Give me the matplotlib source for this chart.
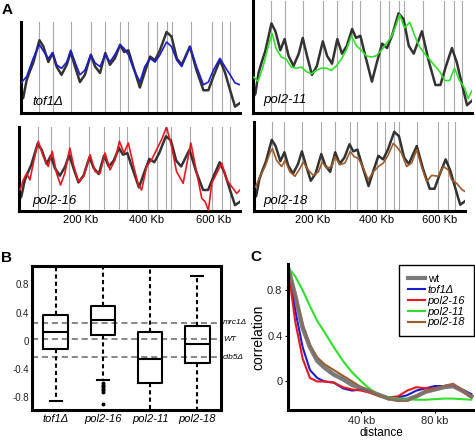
import numpy as np
import matplotlib.pyplot as plt

plt.rcParams['font.family'] = ['Liberation Sans', 'DejaVu Sans']

# panel A: replication profiles along the chromosome (fraction of panel height)
origins = [71, 111, 166, 227, 271, 316, 341, 402, 429, 457, 473, 530, 596, 626, 650]

wt_kb = [15, 22, 32, 42, 52, 62, 71, 83, 98, 111, 123, 138, 154, 166, 179, 194, 209, 227, 240, 255,
         271, 285, 300, 316, 328, 341, 356, 376, 391, 407, 422, 437, 457, 472, 488, 503, 528, 548, 569, 584,
         599, 619, 634, 650, 665, 680]
wt_val = [0.14, 0.17, 0.36, 0.46, 0.55, 0.68, 0.80, 0.73, 0.56, 0.66, 0.51, 0.42, 0.53, 0.67, 0.51, 0.34, 0.42, 0.64, 0.51, 0.44,
          0.66, 0.53, 0.60, 0.75, 0.67, 0.69, 0.51, 0.28, 0.45, 0.62, 0.58, 0.69, 0.89, 0.84, 0.60, 0.53, 0.73, 0.47, 0.25, 0.25,
          0.40, 0.58, 0.45, 0.25, 0.07, 0.11]

tof1_kb = [15, 32, 52, 71, 85, 98, 111, 123, 138, 154, 166, 179, 194, 209, 227, 240, 255, 271, 285, 300,
           316, 328, 341, 356, 376, 391, 407, 422, 437, 457, 472, 488, 503, 528, 548, 569, 584, 599, 619, 634,
           650, 665, 680]
tof1_val = [0.33, 0.40, 0.60, 0.75, 0.67, 0.60, 0.66, 0.53, 0.49, 0.56, 0.69, 0.56, 0.42, 0.47, 0.64, 0.55, 0.51, 0.64, 0.56, 0.64,
            0.75, 0.71, 0.64, 0.49, 0.34, 0.51, 0.60, 0.56, 0.64, 0.78, 0.73, 0.58, 0.51, 0.73, 0.51, 0.31, 0.34, 0.47, 0.60, 0.51,
            0.42, 0.33, 0.31]

p11_kb = [18, 30, 45, 61, 73, 86, 101, 116, 131, 147, 162, 177, 192, 207, 222, 238, 253, 268, 283, 298,
          314, 329, 344, 359, 374, 389, 405, 420, 435, 450, 460, 475, 491, 506, 521, 536, 551, 567, 582, 597,
          612, 627, 642, 658, 668, 680]
p11_val = [0.32, 0.28, 0.41, 0.59, 0.71, 0.57, 0.50, 0.48, 0.41, 0.40, 0.41, 0.37, 0.35, 0.38, 0.40, 0.40, 0.38, 0.42, 0.48, 0.56,
           0.69, 0.60, 0.56, 0.51, 0.50, 0.51, 0.56, 0.62, 0.68, 0.79, 0.88, 0.76, 0.81, 0.69, 0.59, 0.53, 0.48, 0.42, 0.37, 0.29,
           0.29, 0.40, 0.29, 0.22, 0.13, 0.20]

p16_kb = [18, 28, 38, 48, 58, 73, 88, 103, 115, 128, 140, 153, 168, 180, 194, 209, 229, 244, 259, 274,
          289, 304, 317, 331, 344, 359, 374, 384, 399, 414, 429, 444, 459, 474, 489, 509, 532, 550, 565, 575,
          585, 595, 610, 625, 640, 655, 670, 680]
p16_val = [0.25, 0.37, 0.45, 0.37, 0.57, 0.83, 0.65, 0.53, 0.71, 0.45, 0.31, 0.45, 0.75, 0.53, 0.35, 0.41, 0.67, 0.47, 0.45, 0.69,
           0.49, 0.61, 0.83, 0.69, 0.81, 0.55, 0.31, 0.25, 0.53, 0.61, 0.73, 0.85, 1.00, 0.77, 0.47, 0.33, 0.81, 0.45, 0.15, 0.11,
           0.01, 0.33, 0.45, 0.57, 0.37, 0.29, 0.21, 0.25]

p18_kb = [20, 34, 50, 65, 73, 86, 102, 113, 128, 144, 160, 170, 186, 202, 218, 230, 244, 260, 270, 286,
          302, 318, 331, 344, 360, 375, 391, 407, 423, 438, 454, 465, 480, 496, 512, 528, 543, 559, 575, 596,
          612, 628, 638, 654, 670, 680]
p18_val = [0.27, 0.39, 0.50, 0.65, 0.70, 0.57, 0.50, 0.57, 0.44, 0.39, 0.48, 0.55, 0.46, 0.40, 0.44, 0.55, 0.48, 0.50, 0.61, 0.52,
           0.54, 0.67, 0.61, 0.59, 0.48, 0.35, 0.44, 0.50, 0.54, 0.63, 0.76, 0.72, 0.65, 0.50, 0.54, 0.69, 0.50, 0.33, 0.40, 0.39,
           0.50, 0.46, 0.35, 0.31, 0.24, 0.22]

# panel B: box plot summaries
box_labels = ['tof1Δ', 'pol2-16', 'pol2-11', 'pol2-18']
box_q1 = [-0.12, 0.08, -0.60, -0.31]
box_med = [0.13, 0.30, -0.26, -0.05]
box_q3 = [0.36, 0.50, 0.12, 0.21]
box_lo = [-0.85, -0.55, -1.2, -1.2]
box_hi = [1.2, 1.2, 1.2, 0.92]
p16_fliers = [-0.60, -0.62, -0.64, -0.66, -0.68, -0.70, -0.72, -0.90]
ref_names = ['mrc1Δ', 'WT', 'clb5Δ']
ref_vals = [0.255, 0.02, -0.235]

# panel C: autocorrelation vs distance
dist = [0, 4, 8, 12, 16, 20, 25, 30, 35, 40, 45, 50, 55, 60, 65, 70, 75, 80, 85, 90, 95, 100]
corr_wt = [1.0, 0.75, 0.47, 0.30, 0.18, 0.12, 0.06, 0.02, -0.03, -0.06, -0.09, -0.12, -0.15, -0.16, -0.16, -0.13, -0.09, -0.07, -0.05, -0.04, -0.08, -0.13]
corr_tof1 = [1.0, 0.62, 0.30, 0.10, 0.03, 0.0, -0.01, -0.06, -0.08, -0.07, -0.09, -0.12, -0.14, -0.14, -0.12, -0.08, -0.06, -0.04, -0.04, -0.03, -0.07, -0.11]
corr_p16 = [1.0, 0.52, 0.20, 0.03, 0.0, 0.0, -0.01, -0.05, -0.07, -0.08, -0.10, -0.13, -0.14, -0.13, -0.08, -0.05, -0.06, -0.06, -0.04, -0.03, -0.08, -0.14]
corr_p11 = [1.0, 0.92, 0.80, 0.66, 0.53, 0.43, 0.30, 0.18, 0.08, 0.0, -0.07, -0.12, -0.14, -0.15, -0.155, -0.16, -0.16, -0.155, -0.15, -0.15, -0.155, -0.16]
corr_p18 = [1.0, 0.75, 0.50, 0.32, 0.21, 0.15, 0.10, 0.05, 0.0, -0.05, -0.08, -0.12, -0.15, -0.17, -0.17, -0.13, -0.09, -0.07, -0.04, -0.02, -0.07, -0.13]

c_blue = '#1c1ccf'
c_red = '#e8161e'
c_green = '#2fe02a'
c_brown = '#9e5a28'

fig = plt.figure(figsize=(4.75, 4.4), dpi=100)
W, H = 475.0, 440.0


def rect(x0, y0, x1, y1):
    return [x0 / W, 1 - y1 / H, (x1 - x0) / W, (y1 - y0) / H]


panels = [
    (rect(21, 22, 240, 113), tof1_kb, tof1_val, c_blue, 'tof1Δ', False, (0.05, 0.124)),
    (rect(253, 1, 472, 113), p11_kb, p11_val, c_green, 'pol2-11', False, (0.046, 0.116)),
    (rect(19, 127, 240, 211), p16_kb, p16_val, c_red, 'pol2-16', True, (0.059, 0.123)),
    (rect(254, 122, 465, 211), p18_kb, p18_val, c_brown, 'pol2-18', True, (0.043, 0.11)),
]

for r, kb, val, col, name, ticks, tpos in panels:
    ax = fig.add_axes(r)
    for o in origins:
        ax.axvline(o, color='#a8a8a8', lw=0.8, zorder=0)
    ax.plot(wt_kb, wt_val, color='#333333', lw=1.8, zorder=2)
    ax.plot(kb, val, color=col, lw=1.2, zorder=3)
    ax.set_xlim(15, 680)
    ax.set_ylim(0, 1)
    ax.set_yticks([])
    for s in ['top', 'right']:
        ax.spines[s].set_visible(False)
    for s in ['left', 'bottom']:
        ax.spines[s].set_linewidth(2.2)
    if ticks:
        ax.set_xticks([200, 400, 600], ['200 Kb', '400 Kb', '600 Kb'])
        ax.tick_params(axis='x', length=0, pad=3, labelsize=8)
    else:
        ax.set_xticks([])
    ax.text(tpos[0], tpos[1], name, transform=ax.transAxes, style='italic',
            fontsize=9.5, va='center', ha='left')

# panel B
axb = fig.add_axes(rect(32, 266, 221, 410))
stats = []
for i in range(4):
    fl = p16_fliers if i == 1 else []
    stats.append(dict(med=box_med[i], q1=box_q1[i], q3=box_q3[i],
                      whislo=box_lo[i], whishi=box_hi[i], fliers=fl))
for v in ref_vals:
    axb.axhline(v, color='#666666', lw=1.1, linestyle=(0, (4, 2.5)), zorder=1)
axb.bxp(stats, positions=[1, 2, 3, 4], widths=0.52, capwidths=0.25,
        boxprops=dict(color='black', lw=1.5),
        medianprops=dict(color='black', lw=1.5),
        whiskerprops=dict(color='black', lw=1.5, linestyle=(0, (2, 1.5))),
        capprops=dict(color='black', lw=1.5),
        flierprops=dict(marker='o', markersize=1.8, markerfacecolor='black',
                        markeredgecolor='black'))
axb.set_xlim(0.5, 4.5)
axb.set_ylim(-0.98, 1.06)
axb.set_yticks([-0.8, -0.4, 0, 0.4, 0.8], ['-0.8', '-0.4', '0', '0.4', '0.8'])
axb.set_xticks([1, 2, 3, 4], box_labels, style='italic')
axb.tick_params(axis='y', length=0, pad=2, labelsize=7, labelcolor='#222222')
axb.tick_params(axis='x', length=0, pad=3, labelsize=8)
for s in axb.spines.values():
    s.set_linewidth(2.2)
for n, v in zip(ref_names, ref_vals):
    axb.text(1.01, v, n, transform=axb.get_yaxis_transform(), fontsize=6,
             style='italic', va='center', ha='left')

# panel C
axc = fig.add_axes(rect(288, 264, 475, 410))
axc.plot(dist, corr_wt, color='#7a7a7a', lw=3.0, label='wt')
axc.plot(dist, corr_tof1, color=c_blue, lw=1.5, label='tof1Δ')
axc.plot(dist, corr_p16, color=c_red, lw=1.5, label='pol2-16')
axc.plot(dist, corr_p11, color=c_green, lw=1.5, label='pol2-11')
axc.plot(dist, corr_p18, color=c_brown, lw=1.5, label='pol2-18')
axc.plot(dist, corr_wt, color='#7a7a7a', lw=3.0, alpha=0.6)
axc.set_xlim(0, 102)
axc.set_ylim(-0.25, 1.03)
axc.set_yticks([0, 0.4, 0.8], ['0', '0.4', '0.8'])
axc.set_xticks([40, 80], ['40 kb', '80 kb'])
axc.tick_params(length=2, pad=2, labelsize=8, labelcolor='#222222')
axc.set_xlabel('distance', fontsize=8.5, labelpad=1)
axc.set_ylabel('correlation', fontsize=10, labelpad=1)
for s in ['top', 'right']:
    axc.spines[s].set_visible(False)
for s in ['left', 'bottom']:
    axc.spines[s].set_linewidth(2.2)
leg = axc.legend(loc='upper right', bbox_to_anchor=(474 / W, 1 - 265 / H),
                 bbox_transform=fig.transFigure, fontsize=8, frameon=True,
                 fancybox=False, framealpha=1, edgecolor='black',
                 handlelength=1.5, handletextpad=0.25, labelspacing=0.08,
                 borderpad=0.8, borderaxespad=0)
leg.get_frame().set_linewidth(1.0)
for t in leg.get_texts()[1:]:
    t.set_style('italic')

fig.text(2 / W, 1 - 10 / H, 'A', fontsize=11, fontweight='bold', va='center')
fig.text(1 / W, 1 - 258 / H, 'B', fontsize=11, fontweight='bold', va='center')
fig.text(250 / W, 1 - 257 / H, 'C', fontsize=11, fontweight='bold', va='center')

fig.savefig('out.png', dpi=100)
